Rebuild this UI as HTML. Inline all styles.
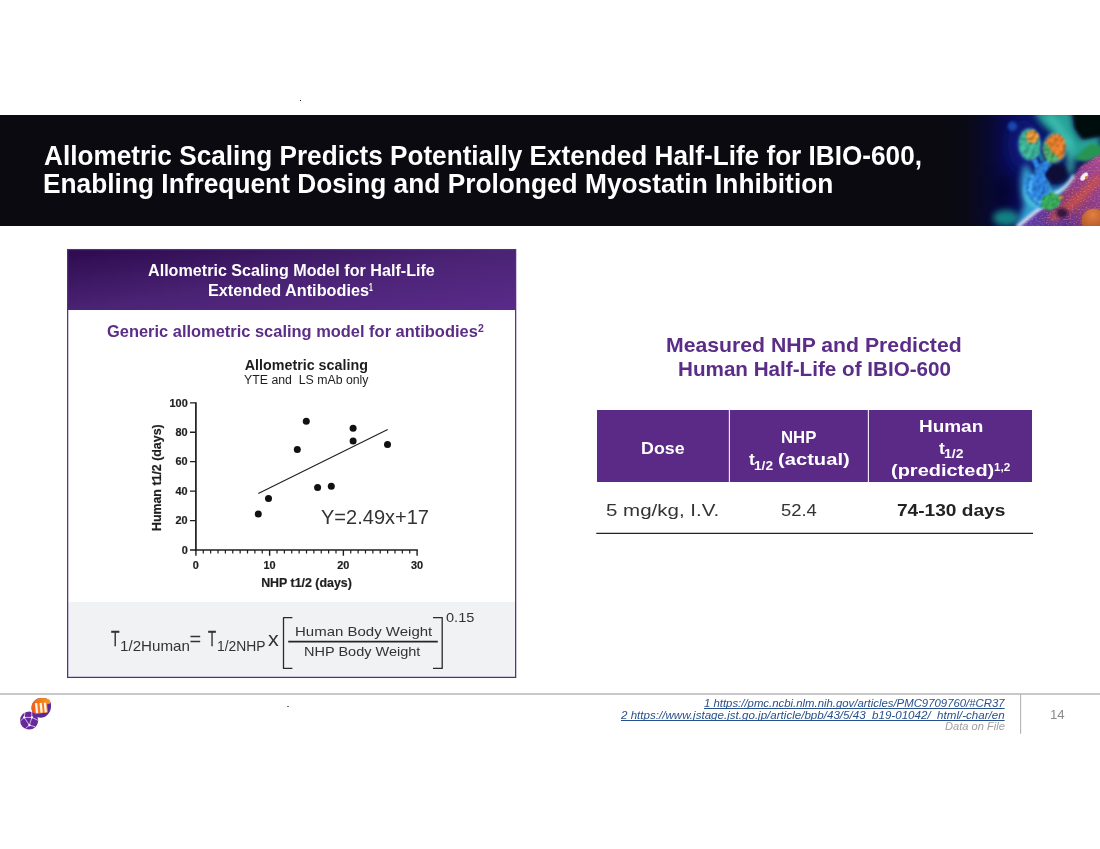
<!DOCTYPE html>
<html lang="en">
<head>
<meta charset="utf-8">
<title>Allometric Scaling Predicts Potentially Extended Half-Life for IBIO-600</title>
<style>
html,body{margin:0;padding:0;background:#fff;}
body{width:1100px;height:849px;position:relative;overflow:hidden;font-family:"Liberation Sans",sans-serif;color:#333;}
.t{position:absolute;white-space:pre;line-height:1;margin:0;padding:0;font-weight:400;text-decoration:none;transform-origin:0 0;}
.abs{position:absolute;}
#titlebar{left:0;top:115px;width:1100px;height:111px;background:#0a0a10;overflow:hidden;}
#hero{left:940px;top:0;width:160px;height:111px;}
#panel{left:67px;top:249px;width:449px;height:429px;background:#fff;}
#panelhead{left:67px;top:249px;width:449px;height:61px;background:linear-gradient(172.3deg,#2c0a4e 0%,#4a2374 50%,#5a2b8a 100%);}
#formula{left:68px;top:602px;width:447px;height:75px;background:#f1f2f4;}
#thead{left:597px;top:410px;width:435px;height:72px;background:#5b2a86;}
#footline{left:0;top:693px;width:1100px;height:2px;background:#c9c9c9;}
.u{text-decoration:underline;text-decoration-skip-ink:none;text-decoration-thickness:1px;text-underline-offset:0.6px;}
</style>
</head>
<body>
<header class="abs" id="titlebar">
<svg class="abs" id="hero" width="160" height="111" viewBox="0 0 160 111" aria-hidden="true">
<defs>
<filter id="b1" filterUnits="userSpaceOnUse" x="-40" y="-40" width="240" height="200"><feGaussianBlur stdDeviation="0.7"/></filter>
<filter id="b2" filterUnits="userSpaceOnUse" x="-40" y="-40" width="240" height="200"><feGaussianBlur stdDeviation="1.6"/></filter>
<filter id="b4" filterUnits="userSpaceOnUse" x="-40" y="-40" width="240" height="200"><feGaussianBlur stdDeviation="3.2"/></filter>
<filter id="b8" filterUnits="userSpaceOnUse" x="-40" y="-40" width="240" height="200"><feGaussianBlur stdDeviation="7"/></filter>
<filter id="rough" filterUnits="userSpaceOnUse" x="60" y="0" width="100" height="111" color-interpolation-filters="sRGB">
<feTurbulence type="fractalNoise" baseFrequency="0.33" numOctaves="2" seed="3" result="n"/>
<feDisplacementMap in="SourceGraphic" in2="n" scale="3.2" xChannelSelector="R" yChannelSelector="G" result="d"/>
<feTurbulence type="fractalNoise" baseFrequency="0.45" numOctaves="2" seed="9" result="n2"/>
<feDiffuseLighting in="n2" surfaceScale="2.2" diffuseConstant="1.15" lighting-color="#ffffff" result="l"><feDistantLight azimuth="230" elevation="48"/></feDiffuseLighting>
<feComposite in="d" in2="l" operator="arithmetic" k1="0.95" k2="0.28" k3="0" k4="0" result="m"/>
<feComposite in="m" in2="d" operator="in" result="c"/>
<feGaussianBlur in="c" stdDeviation="0.9"/>
</filter>
<filter id="speck" filterUnits="userSpaceOnUse" x="60" y="20" width="100" height="91">
<feTurbulence type="fractalNoise" baseFrequency="0.5 0.9" numOctaves="2" seed="11" result="n"/>
<feColorMatrix in="n" type="matrix" values="0 0 0 0 0.95  0 0 0 0 0.35  0 0 0 0 0.25  0 0 0 3.2 -1.55" result="c"/>
<feComposite in="c" in2="SourceGraphic" operator="in"/>
<feGaussianBlur stdDeviation="0.5"/>
</filter>
<linearGradient id="hbg" x1="0" y1="0" x2="160" y2="0" gradientUnits="userSpaceOnUse">
<stop offset="0" stop-color="#0a0a10"/><stop offset="0.16" stop-color="#0a0a15"/><stop offset="0.3" stop-color="#090930"/><stop offset="0.44" stop-color="#0b0c58"/><stop offset="0.62" stop-color="#0d1468"/><stop offset="1" stop-color="#0a1248"/>
</linearGradient>
<linearGradient id="surf" x1="90" y1="111" x2="160" y2="45" gradientUnits="userSpaceOnUse">
<stop offset="0" stop-color="#5a3cae"/><stop offset="0.28" stop-color="#5c2f92"/><stop offset="0.5" stop-color="#8a3a78"/><stop offset="0.75" stop-color="#8c3c92"/><stop offset="1" stop-color="#a8488e"/>
</linearGradient>
<radialGradient id="ob" cx="0.45" cy="0.25" r="0.8"><stop offset="0" stop-color="#e28040"/><stop offset="1" stop-color="#a04a22"/></radialGradient>
<clipPath id="hc"><rect x="0" y="0" width="160" height="111"/></clipPath>
</defs>
<g clip-path="url(#hc)">
<rect x="0" y="0" width="160" height="111" fill="url(#hbg)"/>
<ellipse cx="84" cy="30" rx="16" ry="26" fill="#0f1c82" filter="url(#b8)" opacity="0.75"/>
<ellipse cx="64" cy="78" rx="12" ry="18" fill="#05051c" filter="url(#b8)" opacity="0.55"/>
<!-- teal haze band -->
<path d="M93 -4H131L134 12L140 24L160 21V44H131L126 32L112 18L102 9Z" fill="#25a398" filter="url(#b4)"/>
<path d="M108 0C116 8 124 18 130 34" stroke="#55d6c6" stroke-width="6" fill="none" filter="url(#b4)" opacity="0.6"/>
<path d="M126 22C130 34 132 46 130 58" stroke="#3fbfb0" stroke-width="7" fill="none" filter="url(#b4)" opacity="0.8"/>
<path d="M98 36C100 40 102 44 103 47" stroke="#2fb0b8" stroke-width="4" fill="none" filter="url(#b2)" opacity="0.7"/>
<path d="M133 -4H164V20L143 24L135 13Z" fill="#04070e" filter="url(#b2)"/>
<path d="M135 44L142 35L152 28L162 32V41L146 46Z" fill="#279552" filter="url(#b2)"/>
<!-- teal glow bottom-left -->
<ellipse cx="66" cy="103" rx="13" ry="8" fill="#17908a" filter="url(#b4)" opacity="0.9"/>
<circle cx="72.400" cy="11.200" r="4.600" fill="#1a50b8" filter="url(#b2)" opacity="0.9"/>
<!-- cyan glow around body and along surface edge -->
<path d="M86 48C79 58 80 76 84 90L76 112H96L112 92C124 84 132 74 135 58C130 68 120 74 110 72C100 70 92 60 86 48Z" fill="#35a8d8" filter="url(#b4)" opacity="0.95"/>
<!-- surface -->
<path d="M75 113L99 94L121.400 78.400L133 62.700L141 51L164 37V113Z" fill="url(#surf)" filter="url(#b2)"/>
<path d="M110 104C124 96 142 82 160 62" stroke="#d2503a" stroke-width="9" fill="none" filter="url(#b4)" opacity="0.8"/>
<path d="M75 113L99 94L121.400 78.400L133 62.700L141 51L164 37V113Z" fill="#fff" filter="url(#speck)" opacity="0.4"/>
<ellipse cx="122" cy="98" rx="6" ry="5" fill="#24103c" filter="url(#b2)" opacity="0.85"/>
<path d="M77 112L97 95.500L112 85" stroke="#e4f2ff" stroke-width="3.400" fill="none" filter="url(#b2)" opacity="0.95"/>
<path d="M112 80C122 76 130 68 134 60" stroke="#d8f4ff" stroke-width="3" fill="none" filter="url(#b2)" opacity="0.9"/>
<ellipse cx="144" cy="61.500" rx="5" ry="2.600" transform="rotate(-48 144 61.500)" fill="#fff" filter="url(#b1)" opacity="0.92"/>
<circle cx="146.500" cy="62.500" r="1.600" fill="#d87a3a" filter="url(#b1)"/>
<circle cx="154" cy="106" r="12.500" fill="url(#ob)" filter="url(#b1)"/>
<!-- dark hole -->
<ellipse cx="116.800" cy="58.200" rx="9.800" ry="9.800" fill="#080a36" filter="url(#b2)"/>
<!-- antibody -->
<g filter="url(#b2)" opacity="0.55" fill="#58d0e0"><ellipse cx="89.600" cy="29.500" rx="11.500" ry="16.400"/><ellipse cx="114.600" cy="33" rx="12" ry="15.600"/><ellipse cx="97" cy="76" rx="14" ry="17"/></g>
<g filter="url(#rough)">
<path d="M91 41L95 41L100 48.500L108 44L113 47L104 60C108 66 109 74 110 80C116 80 120 84 118 89C114 94 106 95 100 92C92 88 85.500 80 84.500 70C83.500 64 87.500 60 94.500 60L95 54Z" fill="#2a7cd4"/>
<path d="M94 62C90 66 88.500 73 92 80C95 86 102 90 108 89" stroke="#62ccf2" stroke-width="1.300" fill="none" opacity="0.85"/>
<ellipse cx="110.500" cy="86.500" rx="10.500" ry="8" transform="rotate(-22 110.500 86.500)" fill="#36a457"/>
<circle cx="121.500" cy="82.500" r="2" fill="#d6a634"/>
<ellipse cx="89.600" cy="29.500" rx="10.300" ry="15.200" transform="rotate(-6 89.600 29.500)" fill="#3aa88c"/>
<ellipse cx="92.500" cy="21.500" rx="6.600" ry="6.800" fill="#e08e36"/>
<ellipse cx="114.600" cy="33" rx="11" ry="14.600" transform="rotate(12 114.600 33)" fill="#dc772b"/>
<path d="M104 28C102.500 37 105 45 112 48.500C116 47 118 44 119 41C113 40 109 35 108 29Z" fill="#46a468"/>
</g>
</g>

</svg>
</header>
<h1 style="margin:0;font-size:0">
<span class="t" style="left:43.57px;top:141.13px;font-size:28.2px;font-weight:700;color:#fff;transform:scaleX(0.928);">Allometric Scaling Predicts Potentially Extended Half-Life for IBIO-600,</span>
<span class="t" style="left:42.63px;top:169.13px;font-size:28.2px;font-weight:700;color:#fff;transform:scaleX(0.9329);">Enabling Infrequent Dosing and Prolonged Myostatin Inhibition</span>
</h1>

<section aria-label="Allometric scaling model">
<div class="abs" id="panel"></div>
<div class="abs" id="panelhead"></div>
<span class="t" style="left:148.0px;top:262.29px;font-size:16.2px;font-weight:700;color:#fff;transform:scaleX(0.9965);">Allometric Scaling Model for Half-Life</span>
<span class="t" style="left:207.5px;top:282.09px;font-size:16.2px;font-weight:700;color:#fff;transform:scaleX(1.0038);">Extended Antibodies</span>
<span class="t" style="left:369.36px;top:281.63px;font-size:10.6px;font-weight:700;color:#fff;transform:scaleX(0.64);">1</span>
<span class="t" style="left:106.62px;top:324.26px;font-size:16.7px;font-weight:700;color:#5b2d88;transform:scaleX(0.9848);">Generic allometric scaling model for antibodies</span>
<span class="t" style="left:478.4px;top:324.38px;font-size:10.3px;font-weight:700;color:#5b2d88;transform:scaleX(1.02);">2</span>
<svg class="abs" id="chart" style="left:130px;top:350px" width="330" height="250" viewBox="130 350 330 250" font-family="Liberation Sans, sans-serif">
<path d="M195.90 402.20V550.75" stroke="#1e1e1e" stroke-width="1.7" fill="none"/>
<path d="M195.05 550.00H417.80" stroke="#1e1e1e" stroke-width="1.5" fill="none"/>
<path d="M190.00 550.00H195.90M190.00 520.56H195.90M190.00 491.12H195.90M190.00 461.68H195.90M190.00 432.24H195.90M190.00 402.80H195.90" stroke="#1e1e1e" stroke-width="1.3" fill="none"/>
<path d="M195.90 550.00V555.80M269.63 550.00V555.80M343.37 550.00V555.80M417.10 550.00V555.80" stroke="#1e1e1e" stroke-width="1.4" fill="none"/>
<path d="M203.27 550.00V553.40M210.65 550.00V553.40M218.02 550.00V553.40M225.39 550.00V553.40M232.77 550.00V553.40M240.14 550.00V553.40M247.51 550.00V553.40M254.89 550.00V553.40M262.26 550.00V553.40M277.01 550.00V553.40M284.38 550.00V553.40M291.75 550.00V553.40M299.13 550.00V553.40M306.50 550.00V553.40M313.87 550.00V553.40M321.25 550.00V553.40M328.62 550.00V553.40M335.99 550.00V553.40M350.74 550.00V553.40M358.11 550.00V553.40M365.49 550.00V553.40M372.86 550.00V553.40M380.23 550.00V553.40M387.61 550.00V553.40M394.98 550.00V553.40M402.35 550.00V553.40M409.73 550.00V553.40" stroke="#1e1e1e" stroke-width="1.2" fill="none"/>
<g font-size="10.9" font-weight="700" fill="#1e1e1e" stroke="#1e1e1e" stroke-width="0.2">
<text x="187.7" y="553.80" text-anchor="end">0</text>
<text x="187.7" y="524.36" text-anchor="end">20</text>
<text x="187.7" y="494.92" text-anchor="end">40</text>
<text x="187.7" y="465.48" text-anchor="end">60</text>
<text x="187.7" y="436.04" text-anchor="end">80</text>
<text x="187.7" y="406.60" text-anchor="end">100</text>
<text x="195.90" y="568.6" text-anchor="middle">0</text>
<text x="269.63" y="568.6" text-anchor="middle">10</text>
<text x="343.37" y="568.6" text-anchor="middle">20</text>
<text x="417.10" y="568.6" text-anchor="middle">30</text>
</g>
<text x="306.5" y="587" text-anchor="middle" font-size="12.4" font-weight="700" fill="#1e1e1e" stroke="#1e1e1e" stroke-width="0.2">NHP t1/2 (days)</text>
<text transform="translate(161.4 477.7) rotate(-90)" text-anchor="middle" font-size="12.4" font-weight="700" fill="#1e1e1e" stroke="#1e1e1e" stroke-width="0.2">Human t1/2 (days)</text>
<text x="306.3" y="370" text-anchor="middle" font-size="14.3" font-weight="700" fill="#1e1e1e">Allometric scaling</text>
<text x="306.3" y="384" text-anchor="middle" font-size="12.3" fill="#1e1e1e" xml:space="preserve">YTE and  LS mAb only</text>
<path d="M258.3 493.5L387.7 429.5" stroke="#1e1e1e" stroke-width="1.1" fill="none"/>
<g fill="#111"><circle cx="258.3" cy="514.1" r="3.5"/><circle cx="268.5" cy="498.4" r="3.5"/><circle cx="297.3" cy="449.5" r="3.5"/><circle cx="306.3" cy="421.3" r="3.5"/><circle cx="317.6" cy="487.6" r="3.5"/><circle cx="331.3" cy="486.2" r="3.5"/><circle cx="353.1" cy="428.3" r="3.5"/><circle cx="353.1" cy="441.1" r="3.5"/><circle cx="387.5" cy="444.6" r="3.5"/></g>
<text x="321" y="524" font-size="20.8" fill="#333" textLength="108" lengthAdjust="spacingAndGlyphs">Y=2.49x+17</text>
</svg>
<div class="abs" id="formula"></div>
<svg class="abs" style="left:64px;top:246px" width="456" height="436" viewBox="64 246 456 436" aria-hidden="true"><rect x="67.65" y="249.6" width="448" height="427.8" fill="none" stroke="#5a2c84" stroke-width="1.25"/></svg>
<span class="t" style="left:111.2px;top:627.72px;font-size:21.6px;color:#333;transform:scaleX(0.6462);-webkit-text-stroke:0.3px #333;">T</span>
<span class="t" style="left:120.24px;top:638.9px;font-size:14.3px;color:#333;transform:scaleX(1.0594);">1/2Human</span>
<span class="t" style="left:189.4px;top:628.57px;font-size:20px;color:#333;">=</span>
<span class="t" style="left:208.3px;top:627.72px;font-size:21.6px;color:#333;transform:scaleX(0.6154);-webkit-text-stroke:0.3px #333;">T</span>
<span class="t" style="left:217.13px;top:638.9px;font-size:14.3px;color:#333;transform:scaleX(0.9688);">1/2NHP</span>
<span class="t" style="left:268.48px;top:628.22px;font-size:21px;color:#333;transform:scaleX(1.0222);">x</span>
<span class="t" style="left:294.86px;top:624.63px;font-size:13.2px;color:#333;transform:scaleX(1.137);">Human Body Weight</span>
<span class="t" style="left:304.4px;top:644.73px;font-size:13.2px;color:#333;transform:scaleX(1.1);">NHP Body Weight</span>
<span class="t" style="left:445.86px;top:612.06px;font-size:12.8px;color:#333;transform:scaleX(1.1391);">0.15</span>
<svg class="abs" style="left:280px;top:612px" width="170" height="62" viewBox="280 612 170 62" aria-hidden="true">
<path d="M292.4 617.6H283.5V668.4H292.4" fill="none" stroke="#2a2a2a" stroke-width="1.3" stroke-linejoin="round"/>
<path d="M433 617.6H442.2V668.4H433" fill="none" stroke="#2a2a2a" stroke-width="1.3" stroke-linejoin="round"/>
<path d="M288.2 641.65H437.8" fill="none" stroke="#262626" stroke-width="1.6"/>
</svg>
</section>

<section aria-label="Measured NHP and predicted human half-life">
<span class="t" style="left:666.47px;top:334.56px;font-size:20.6px;font-weight:700;color:#5b2d88;transform:scaleX(1.0306);">Measured NHP and Predicted</span>
<span class="t" style="left:678.3px;top:358.56px;font-size:20.6px;font-weight:700;color:#5b2d88;transform:scaleX(1.0026);">Human Half-Life of IBIO-600</span>
<div class="abs" id="thead"></div>
<svg class="abs" style="left:720px;top:410px" width="160" height="72" viewBox="720 410 160 72" aria-hidden="true"><path d="M729.4 410V482M868.4 410V482" stroke="#f1ebf6" stroke-width="1.15" fill="none"/></svg>
<span class="t" style="left:641.27px;top:440.16px;font-size:17.3px;font-weight:700;color:#fff;transform:scaleX(1.0317);">Dose</span>
<span class="t" style="left:780.53px;top:429.06px;font-size:17.3px;font-weight:700;color:#fff;transform:scaleX(0.9714);">NHP</span>
<span class="t" style="left:749.1px;top:451.26px;font-size:17.3px;font-weight:700;color:#fff;transform:scaleX(1.02);">t</span>
<span class="t" style="left:754.39px;top:459.59px;font-size:12.3px;font-weight:700;color:#fff;transform:scaleX(1.1125);">1/2</span>
<span class="t" style="left:777.83px;top:451.26px;font-size:17.3px;font-weight:700;color:#fff;transform:scaleX(1.1667);">(actual)</span>
<span class="t" style="left:918.9px;top:417.86px;font-size:17.3px;font-weight:700;color:#fff;transform:scaleX(1.0964);">Human</span>
<span class="t" style="left:938.5px;top:440.06px;font-size:17.3px;font-weight:700;color:#fff;transform:scaleX(1.02);">t</span>
<span class="t" style="left:944.06px;top:448.29px;font-size:12.3px;font-weight:700;color:#fff;transform:scaleX(1.1375);">1/2</span>
<span class="t" style="left:890.54px;top:461.76px;font-size:17.3px;font-weight:700;color:#fff;transform:scaleX(1.1563);">(predicted)</span>
<span class="t" style="left:993.9px;top:461.63px;font-size:10.6px;font-weight:700;color:#fff;transform:scaleX(1.1);">1,2</span>
<span class="t" style="left:606.07px;top:502.86px;font-size:16.7px;color:#333;transform:scaleX(1.2289);">5 mg/kg, I.V.</span>
<span class="t" style="left:780.7px;top:502.86px;font-size:16.7px;color:#333;transform:scaleX(1.1032);">52.4</span>
<span class="t" style="left:896.59px;top:501.96px;font-size:17.3px;font-weight:700;color:#222;transform:scaleX(1.1052);">74-130 days</span>
<svg class="abs" style="left:590px;top:528px" width="450" height="10" viewBox="590 528 450 10" aria-hidden="true"><path d="M596.3 533.4H1033" stroke="#222" stroke-width="1.25" fill="none"/></svg>
</section>

<footer>
<div class="abs" id="footline"></div>
<svg class="abs" style="left:1015px;top:690px" width="12" height="48" viewBox="1015 690 12 48" aria-hidden="true"><path d="M1020.6 694.5V733.7" stroke="#b4b4b4" stroke-width="1.1" fill="none"/></svg>
<svg class="abs" id="logo" style="left:15px;top:695px" width="40" height="40" viewBox="15 695 40 40" aria-hidden="true">
<defs>
<linearGradient id="lgO" x1="33" y1="712" x2="50" y2="699" gradientUnits="userSpaceOnUse"><stop offset="0" stop-color="#f05a1e"/><stop offset="0.55" stop-color="#f47a16"/><stop offset="1" stop-color="#f6a01a"/></linearGradient>
<clipPath id="lgc"><path d="M31.600 708.500C31.300 702.500 35.500 698.400 41.200 698.100C44.500 697.900 47.500 698.600 49.600 700.400C51.200 702.600 51.300 706.200 50.700 709C49.600 713.800 45.800 717.600 41 717.700C35.900 717.800 31.900 713.800 31.600 708.500Z"/></clipPath>
</defs>
<g clip-path="url(#lgc)">
<rect x="30" y="696" width="24" height="24" fill="#5a2a96"/>
<path d="M30 696H51L50 703.600L46.800 704.600L47.600 712.300L36 714.200L33 716L30 716Z" fill="url(#lgO)"/>
<path d="M35 703.200L47 702.600L47.800 712.200L36.200 713.200Z" fill="#f47a22"/>
<path d="M36.100 703.200L37 713M40.700 702.900L41.600 712.700M44.900 702.700L45.800 712.400" stroke="#fff4e4" stroke-width="2.300" fill="none"/>
</g>
<circle cx="29.100" cy="720.500" r="9.100" fill="#66299a"/>
<path d="M24.200 717.400L31.900 717.400L29.400 725.200ZM24.200 717.400L20.200 721.200M24.200 717.400L25 712.200M31.900 717.400L31.700 711.800M31.900 717.400L38 720.400M29.400 725.200L25.300 728.700M29.400 725.200L35.200 726.800" stroke="#f3e6fb" stroke-width="0.750" fill="none"/>
<circle cx="24.200" cy="717.400" r="1.150" fill="#fff"/><circle cx="31.900" cy="717.400" r="1.150" fill="#fff"/><circle cx="29.400" cy="725.200" r="1.150" fill="#fff"/>

</svg>
<span class="t u" style="left:703.68px;top:697.82px;font-size:11.2px;font-style:italic;color:#27508c;transform:scaleX(1.0156);">1 https://pmc.ncbi.nlm.nih.gov/articles/PMC9709760/#CR37</span>
<span class="t u" style="left:621.3px;top:709.52px;font-size:11.2px;font-style:italic;color:#27508c;transform:scaleX(1.0351);">2 https://www.jstage.jst.go.jp/article/bpb/43/5/43_b19-01042/_html/-char/en</span>
<span class="t" style="left:944.7px;top:720.52px;font-size:11.2px;font-style:italic;color:#a0a0a0;transform:scaleX(0.9933);">Data on File</span>
<span class="t" style="left:1050.03px;top:707.89px;font-size:13.6px;color:#8a8a8a;transform:scaleX(0.9714);">14</span>
</footer>
<div class="abs" style="left:300px;top:100px;width:1px;height:1px;background:#111"></div>
<div class="abs" style="left:287px;top:706px;width:2px;height:1px;background:#707070"></div>
</body>
</html>
